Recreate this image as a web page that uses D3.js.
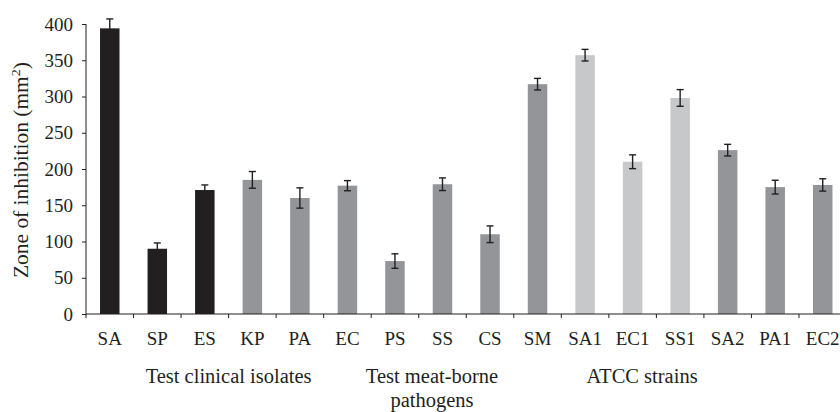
<!DOCTYPE html>
<html><head><meta charset="utf-8">
<script src="https://cdn.jsdelivr.net/npm/d3@7/dist/d3.min.js"></script>
<style>body{margin:0;background:#fff}svg{display:block}text{font-family:"Liberation Serif","Times New Roman",serif;fill:#231f20}</style>
</head><body><svg id="c" width="840" height="412"></svg>
<script>
const categories = ["SA","SP","ES","KP","PA","EC","PS","SS","CS","SM","SA1","EC1","SS1","SA2","PA1","EC2"];
const values =     [394, 90, 171, 185, 160, 177, 73, 179, 110, 317, 357, 210, 298, 226, 175, 178];
const errors =     [13, 8, 7, 11.5, 14, 7, 10, 8.7, 11.5, 8, 8, 9.5, 11.5, 8, 9.5, 8.5];
const shades =     ["k","k","k","d","d","d","d","d","d","d","l","l","l","d","d","d"];
const yTicks = [0,50,100,150,200,250,300,350,400];
const groupLabels = [["Test clinical isolates"],["Test meat-borne","pathogens"],["ATCC strains"]];
const groupCenters = [3.0, 7.28, 11.7];
const colors = {k:"#231f20", d:"#939598", l:"#c7c8ca"};

const svg = d3.select("#c");
const x = d3.scaleBand().domain(categories).range([86, 846.5]).paddingInner(0.59).paddingOuter(0.295);
const y = d3.scaleLinear().domain([0,400]).range([314,24]);
const step = x.step();

svg.selectAll("rect.bar").data(categories).enter().append("rect")
  .attr("x", d=>x(d)).attr("width", x.bandwidth())
  .attr("y", (d,i)=>y(values[i])).attr("height",(d,i)=>y(0)-y(values[i]))
  .attr("fill",(d,i)=>colors[shades[i]]);

const eg = svg.append("g").attr("stroke","#231f20").attr("stroke-width",1.4);
categories.forEach((c,i)=>{
  const cx = x(c)+x.bandwidth()/2;
  const t = y(values[i]+errors[i]), b = y(values[i]-errors[i]);
  eg.append("line").attr("x1",cx).attr("x2",cx).attr("y1",t).attr("y2",b);
  eg.append("line").attr("x1",cx-3.5).attr("x2",cx+3.5).attr("y1",t).attr("y2",t);
  eg.append("line").attr("x1",cx-3.5).attr("x2",cx+3.5).attr("y1",b).attr("y2",b);
});

// y axis
const ya = svg.append("g").attr("transform","translate(86,0)")
  .call(d3.axisLeft(y).tickValues(yTicks).tickSize(4).tickPadding(9));
ya.attr("font-family",null).attr("font-size",null);
ya.select(".domain").attr("stroke","#231f20").attr("d","M0,24V314.5");
ya.selectAll(".tick line").attr("stroke","#231f20");
ya.selectAll(".tick text").style("font-size","19px").attr("fill","#231f20");

// x axis
const xa = svg.append("g").attr("transform","translate(0,314)");
xa.append("line").attr("x1",86).attr("x2",840).attr("stroke","#231f20");
d3.range(categories.length+1).forEach(i=>{
  const xx = 86 + i*step;
  xa.append("line").attr("x1",xx).attr("x2",xx).attr("y1",0).attr("y2",4).attr("stroke","#231f20");
});
xa.selectAll("text.cat").data(categories).enter().append("text")
  .attr("x", d=>x(d)+x.bandwidth()/2).attr("y",31).attr("text-anchor","middle")
  .style("font-size","19px").text(d=>d);

groupLabels.forEach((lines,g)=>{
  const cx = 86 + groupCenters[g]*step;
  lines.forEach((ln,j)=>{
    svg.append("text").attr("x",cx).attr("y",383+j*23.5).attr("text-anchor","middle")
      .style("font-size","20.5px").text(ln);
  });
});

// y title
const yt = svg.append("text").attr("text-anchor","start").style("font-size","20px");
yt.append("tspan").text("Zone of inhibition (mm");
yt.append("tspan").attr("dy",-8).style("font-size","13px").text("2");
yt.append("tspan").attr("dy",8).text(")");
const len = yt.node().getComputedTextLength();
const k = 216/len;
yt.attr("transform",`translate(28,${170+108}) rotate(-90) scale(${k},1)`);
</script></body></html>
